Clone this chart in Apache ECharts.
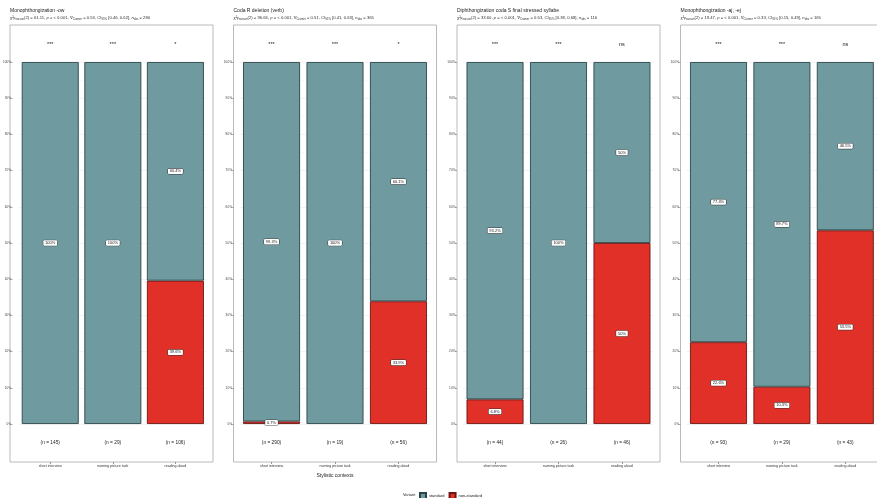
<!DOCTYPE html>
<html>
<head>
<meta charset="utf-8">
<script src="https://cdn.jsdelivr.net/npm/echarts@6/dist/echarts.min.js"></script>
<style>
html,body{margin:0;padding:0;background:#fff;}
#chart{width:877px;height:498px;}
</style>
</head>
<body>
<div id="chart"></div>
<script>
// ---- data ----
const categories = ['short interview', 'naming picture task', 'reading aloud'];
const panelTitles = ['Monophthongization -ow', 'Coda R deletion (verb)', 'Diphthongization coda S final stressed syllabe', 'Monophthongization -aj, -ej'];
const chiSq = ['61.11', '96.66', '33.60', '19.47'];
const cramerV = ['0.53', '0.51', '0.53', '0.33'];
const ciLow = ['0.46', '0.41', '0.38', '0.15'];
const ciHigh = ['0.62', '0.63', '0.68', '0.49'];
const nObs = [280, 365, 116, 165];
const sigLabels = [['***', '***', '*'], ['***', '***', '*'], ['***', '***', 'ns'], ['***', '***', 'ns']];
const nCounts = [[145, 29, 106], [290, 19, 56], [44, 26, 46], [93, 29, 43]];
const standardPct = [[100, 100, 60.4], [99.3, 100, 66.1], [93.2, 100, 50], [77.4, 89.7, 46.5]];
const nonStandardPct = [[0, 0, 39.6], [0.7, 0, 33.9], [6.8, 0, 50], [22.6, 10.3, 53.5]];
const legendNames = ['standard', 'non-standard'];

// ---- layout / style ----
const boxLeft = [10, 233.5, 457, 680.5];
const boxW = 203, boxTop = 25, boxBottom = 462;
const plotTop = 62, plotBottom = 424;
const inset = 6.3;
const colStd = '#6f9ba0', colNon = '#e03028';
const FONT = 'Liberation Sans, Arial, sans-serif';

function pctText(v) {
  const s = (Math.round(v * 10) / 10).toFixed(1).replace(/\.0$/, '');
  return s + '%';
}

const grids = [], xAxes = [], yAxes = [], series = [], titles = [], graphics = [];
const subRich = {
  n: {fontSize: 4.2, color: '#333', fontFamily: FONT, verticalAlign: 'bottom'},
  s: {fontSize: 2.8, color: '#333', fontFamily: FONT, verticalAlign: 'bottom'},
  i: {fontSize: 4.2, color: '#333', fontFamily: FONT, fontStyle: 'italic', verticalAlign: 'bottom'}
};

for (let k = 0; k < 4; k++) {
  const L = boxLeft[k];
  grids.push({left: L + inset, top: plotTop, width: boxW - 2 * inset, height: plotBottom - plotTop, containLabel: false});
  // main bottom axis: n labels
  xAxes.push({
    type: 'category', gridIndex: k, position: 'bottom', data: nCounts[k].map(n => '(n = ' + n + ')'),
    axisLine: {show: false}, axisTick: {show: false}, splitLine: {show: false},
    axisLabel: {margin: 16, fontSize: 4.8, color: '#222', fontFamily: FONT}
  });
  // top axis: significance
  xAxes.push({
    type: 'category', gridIndex: k, position: 'top', data: sigLabels[k],
    axisLine: {show: false}, axisTick: {show: false}, splitLine: {show: false},
    axisLabel: {margin: 15, fontSize: 5.5, color: '#222', fontFamily: FONT}
  });
  // bottom category names
  const catAxis = {
    type: 'category', gridIndex: k, position: 'bottom', offset: boxBottom - plotBottom, data: categories,
    axisLine: {show: false}, axisTick: {show: true, length: 2, alignWithLabel: true, lineStyle: {color: '#555', width: 0.6}},
    splitLine: {show: false},
    axisLabel: {margin: 1.8, fontSize: 3.6, color: '#333', fontFamily: FONT}
  };
  if (k === 1) {
    catAxis.name = 'Stylistic contexts';
    catAxis.nameLocation = 'middle';
    catAxis.nameGap = 8;
    catAxis.nameTextStyle = {fontSize: 5, color: '#222', fontFamily: FONT};
  }
  xAxes.push(catAxis);

  yAxes.push({
    type: 'value', gridIndex: k, min: 0, max: 100, interval: 10, offset: inset,
    axisLine: {show: false},
    axisTick: {show: true, length: 2, lineStyle: {color: '#777', width: 0.6}},
    axisLabel: {formatter: '{value}%', fontSize: 3.2, color: '#444', margin: 1.5, fontFamily: FONT},
    splitLine: {show: true, lineStyle: {color: '#ebebeb', width: 0.6}},
    minorTick: {show: false, splitNumber: 2},
    minorSplitLine: {show: true, lineStyle: {color: '#f4f4f4', width: 0.5}}
  });

  const label = {
    show: true, position: 'inside', fontSize: 4, color: '#222', fontFamily: FONT,
    backgroundColor: '#fff', borderColor: '#333', borderWidth: 0.5, borderRadius: 1, padding: [0.8, 1.8, 0.5, 1.8],
    formatter: p => pctText(p.value)
  };
  const mk = arr => arr.map(v => v === 0 ? '-' : v);
  series.push({
    name: 'non-standard', type: 'bar', stack: 'p' + k, xAxisIndex: 3 * k, yAxisIndex: k,
    data: mk(nonStandardPct[k]), barWidth: 57,
    itemStyle: {color: colNon, borderColor: '#6b1512', borderWidth: 0.9},
    label: label, silent: true
  });
  series.push({
    name: 'standard', type: 'bar', stack: 'p' + k, xAxisIndex: 3 * k, yAxisIndex: k,
    data: mk(standardPct[k]), barWidth: 57,
    itemStyle: {color: colStd, borderColor: '#2c4446', borderWidth: 0.9},
    label: label, silent: true
  });

  titles.push({
    text: panelTitles[k], left: L, top: 8.5, padding: 0, itemGap: 2.8,
    textStyle: {fontSize: 5, fontWeight: 'normal', color: '#222', fontFamily: FONT},
    subtext: '{n|\u03c7²}{s|Pearson}{n|(2) = ' + chiSq[k] + ', }{i|p}{n| = < 0.001, V\u0302}{s|Cramer}{n| = ' + cramerV[k] +
      ', CI}{s|95%}{n| [' + ciLow[k] + ', ' + ciHigh[k] + '], }{i|n}{s|obs}{n| = ' + nObs[k] + '}',
    subtextStyle: {rich: subRich, fontSize: 4.2, color: '#333'}
  });

  graphics.push({
    type: 'rect', silent: true, z: 0,
    shape: {x: L, y: boxTop, width: boxW, height: boxBottom - boxTop},
    style: {fill: 'none', stroke: '#a8a8a8', lineWidth: 0.8}
  });
}

graphics.push({
  type: 'text', left: 403, top: 492.5,
  style: {text: 'Variant', fontSize: 4, fill: '#222', fontFamily: FONT}
});

const chart = echarts.init(document.getElementById('chart'), null, {renderer: 'canvas'});
chart.setOption({
  backgroundColor: '#fff',
  animation: false,
  title: titles,
  grid: grids,
  xAxis: xAxes,
  yAxis: yAxes,
  series: series,
  graphic: graphics,
  legend: {
    data: legendNames, left: 419, top: 492, padding: 0, itemWidth: 6, itemHeight: 6, itemGap: 4,
    icon: 'rect', textStyle: {fontSize: 4, color: '#222', fontFamily: FONT, padding: [0, 0, 0, -2]}
  }
});
</script>
</body>
</html>
